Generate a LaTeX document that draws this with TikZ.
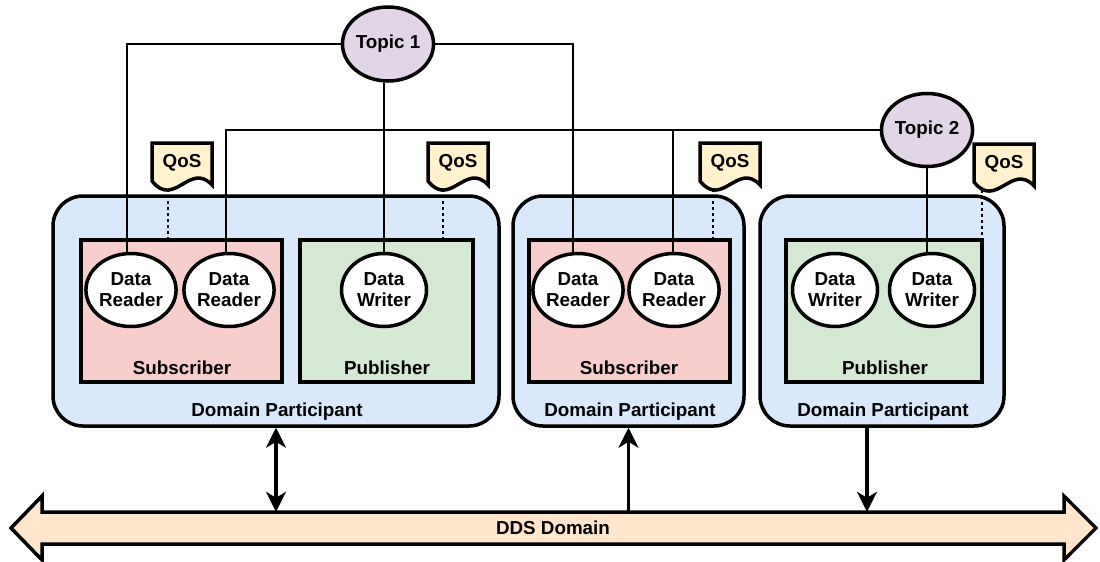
\documentclass[tikz,border=0pt]{standalone}
\usepackage{fontspec}
\setmainfont{Liberation Sans}
\usetikzlibrary{shapes.geometric,arrows.meta}
\definecolor{dpblue}{HTML}{DAE8FC}
\definecolor{subred}{HTML}{F8CECC}
\definecolor{pubgreen}{HTML}{D5E8D4}
\definecolor{qosyellow}{HTML}{FFF2CC}
\definecolor{topicpurple}{HTML}{E1D5E7}
\definecolor{ddsorange}{HTML}{FFE6CC}
\newcommand\qosdoc[4]{%
  \begin{scope}[shift={(#2,#3)}]
    \draw[qosshape] (0,0) -- (60,0) -- (60,42) .. controls (38,18) and (22,66) .. (0,38) -- cycle;
    \node[txt] (#1) at (30,20) {QoS};
    \coordinate (#1d) at (#4,46);
  \end{scope}}
\begin{document}
\begin{tikzpicture}[x=1pt,y=-1pt,
  font=\fontsize{18.8}{21}\selectfont\bfseries,
  dpbox/.style={draw, line width=3.5pt, fill=dpblue, rounded corners=30pt, minimum height=230pt, inner sep=0},
  subbox/.style={draw, line width=4pt, fill=subred, minimum height=142pt, inner sep=0},
  pubbox/.style={draw, line width=4pt, fill=pubgreen, minimum height=142pt, inner sep=0},
  ent/.style={ellipse, draw, line width=3.5pt, fill=white, minimum width=85pt, minimum height=73pt, inner sep=0, align=center},
  topic/.style={ellipse, draw, line width=3.5pt, fill=topicpurple, inner sep=0},
  qosshape/.style={draw, line width=3.5pt, fill=qosyellow, line join=miter},
  txt/.style={inner sep=0},
  link/.style={line width=2.5pt},
  qlink/.style={line width=1.3pt, dash pattern=on 3pt off 3pt},
  busarr/.style={line width=3.2pt, >={Stealth[length=20pt,width=20pt,inset=6pt]}},
  bus/.style={draw, line width=3.5pt, fill=ddsorange, line join=miter}]
\useasboundingbox (0,0) rectangle (1100,562);

% Domain participants
\node[dpbox, minimum width=446pt] (dp1) at (276,311) {};
\node[dpbox, minimum width=231pt] (dp2) at (628.5,311) {};
\node[dpbox, minimum width=244pt] (dp3) at (882,311) {};

% Subscriber / Publisher boxes
\node[subbox, minimum width=201pt] (sub1) at (181.5,311) {};
\node[pubbox, minimum width=173pt] (pub1) at (386.5,311) {};
\node[subbox, minimum width=201pt] (sub2) at (629.5,311) {};
\node[pubbox, minimum width=196pt] (pub2) at (884,311) {};

\node[txt, anchor=base] (lsub1) at (182,374) {Subscriber};
\node[txt, anchor=base] (lpub1) at (387,374) {Publisher};
\node[txt, anchor=base] (lsub2) at (629,374) {Subscriber};
\node[txt, anchor=base] (lpub2) at (885,374) {Publisher};
\node[txt, anchor=base] (ldp1) at (277,416) {Domain Participant};
\node[txt, anchor=base] (ldp2) at (630,416) {Domain Participant};
\node[txt, anchor=base] (ldp3) at (883,416) {Domain Participant};

% Readers / writers
\node[ent] (dr1) at (131,290) {Data\\Reader};
\node[ent] (dr2) at (229,290) {Data\\Reader};
\node[ent] (dw1) at (384,290) {Data\\Writer};
\node[ent] (dr3) at (578,290) {Data\\Reader};
\node[ent] (dr4) at (674,290) {Data\\Reader};
\node[ent] (dw2) at (835,290) {Data\\Writer};
\node[ent] (dw3) at (932,290) {Data\\Writer};

% Topics
\node[topic, minimum width=88pt, minimum height=74pt] (t1) at (388,44) {Topic 1};
\node[topic, minimum width=86pt, minimum height=73pt] (t2) at (927,130) {Topic 2};

% Topic links
\coordinate (j1) at (127,44);
\coordinate (j2) at (573,44);
\coordinate (j3) at (226,130);
\coordinate (j4) at (673,130);
\draw[link] (t1.west) -- (j1) -- (j1 |- dr1.north);
\draw[link] (t1.east) -- (j2) -- (j2 |- dr3.north);
\draw[link] (t1.south -| dw1.north) -- (dw1.north);
\draw[link] (t2.west) -- (j3) -- (j3 |- dr2.north);
\draw[link] (j4) -- (j4 |- dr4.north);
\draw[link] (t2.south) -- (t2.south |- dw3.north);

% QoS documents
\qosdoc{q1}{152}{143}{16}
\qosdoc{q2}{428}{143}{15}
\qosdoc{q3}{700}{143}{13}
\qosdoc{q4}{974}{144}{8}
\draw[qlink] (q1d) -- (q1d |- sub1.north);
\draw[qlink] (q2d) -- (q2d |- pub1.north);
\draw[qlink] (q3d) -- (q3d |- sub2.north);
\draw[qlink] (q4d) -- (q4d |- pub2.north);

% DDS Domain bus
\draw[bus] (11,528) -- (42,496) -- (42,512) -- (1064,512) -- (1064,496) -- (1096,528)
  -- (1064,560) -- (1064,544) -- (42,544) -- (42,560) -- cycle;
\node[txt, minimum width=1022pt, minimum height=32pt] (shaft) at (553,528) {DDS Domain};

% Bus connections
\coordinate (a3) at ([xshift=-15pt]dp3.south);
\draw[busarr, <->] (dp1.south) -- (dp1.south |- shaft.north);
\draw[busarr, ->] (dp2.south |- shaft.north) -- (dp2.south);
\draw[busarr, ->] (a3) -- (a3 |- shaft.north);
\end{tikzpicture}
\end{document}
